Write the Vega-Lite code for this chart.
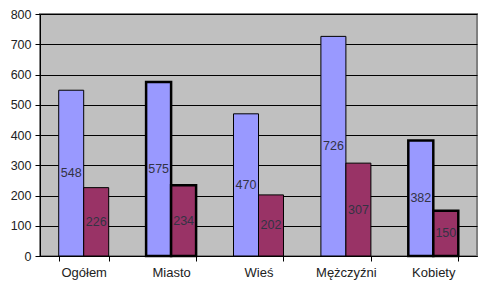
{
  "$schema": "https://vega.github.io/schema/vega-lite/v6.json",
  "width": 437,
  "height": 242,
  "autosize": {"type": "none"},
  "padding": {"left": 40, "top": 14, "right": 9, "bottom": 33},
  "background": "white",
  "config": {
    "font": "Liberation Sans",
    "view": {"fill": "#c0c0c0", "stroke": "#808080", "strokeWidth": 2},
    "axisY": {
      "values": [0, 100, 200, 300, 400, 500, 600, 700, 800],
      "tickCount": 8,
      "labelOverlap": false,
      "labelFont": "Liberation Sans",
      "labelFontSize": 12.5,
      "labelColor": "#222222",
      "labelPadding": 4,
      "tickColor": "#000000",
      "tickSize": 5,
      "domainColor": "#000000",
      "gridColor": "#000000",
      "gridOpacity": 1,
      "gridWidth": 1
    }
  },
  "data": {
    "values": [
      {"cat": "Ogółem", "series": "A", "value": 548},
      {"cat": "Ogółem", "series": "B", "value": 226},
      {"cat": "Miasto", "series": "A", "value": 575},
      {"cat": "Miasto", "series": "B", "value": 234},
      {"cat": "Wieś", "series": "A", "value": 470},
      {"cat": "Wieś", "series": "B", "value": 202},
      {"cat": "Mężczyźni", "series": "A", "value": 726},
      {"cat": "Mężczyźni", "series": "B", "value": 307},
      {"cat": "Kobiety", "series": "A", "value": 382},
      {"cat": "Kobiety", "series": "B", "value": 150}
    ]
  },
  "encoding": {
    "x": {
      "field": "cat",
      "type": "nominal",
      "sort": null,
      "title": null,
      "scale": {"paddingInner": 0.428, "paddingOuter": 0.214},
      "axis": {
        "labelAngle": 0,
        "labelFont": "Liberation Sans",
        "labelFontSize": 13,
        "labelColor": "#222222",
        "labelPadding": 5,
        "tickBand": "extent",
        "tickColor": "#000000",
        "tickSize": 5,
        "domainColor": "#000000",
        "domainWidth": 1,
        "grid": false
      }
    },
    "xOffset": {"field": "series", "type": "nominal"},
    "color": {
      "field": "series",
      "type": "nominal",
      "scale": {"domain": ["A", "B"], "range": ["#9999ff", "#993366"]},
      "legend": null
    }
  },
  "layer": [
    {
      "mark": {"type": "bar", "stroke": "#000000"},
      "encoding": {
        "y": {
          "field": "value",
          "type": "quantitative",
          "title": null,
          "scale": {"domain": [0, 800], "nice": false}
        },
        "strokeWidth": {
          "condition": {"test": "datum.cat === 'Miasto' || datum.cat === 'Kobiety'", "value": 2.5},
          "value": 1
        }
      }
    },
    {
      "transform": [{"calculate": "datum.value / 2", "as": "mid"}],
      "mark": {"type": "text", "fontSize": 12.5, "font": "Liberation Sans", "baseline": "middle", "align": "center"},
      "encoding": {
        "y": {"field": "mid", "type": "quantitative", "title": null, "scale": {"domain": [0, 800], "nice": false}},
        "text": {"field": "value", "type": "quantitative"},
        "color": {"value": "#333344"}
      }
    }
  ]
}
